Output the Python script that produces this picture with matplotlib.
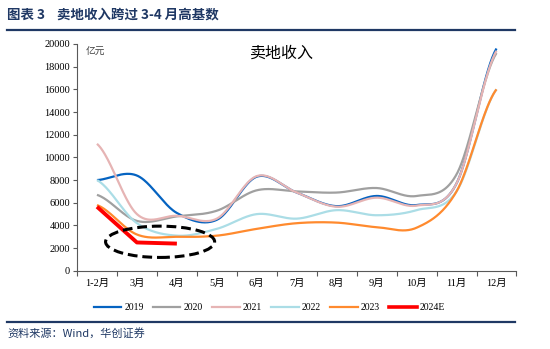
import numpy as np
import matplotlib
matplotlib.use("Agg")
import matplotlib.pyplot as plt
from matplotlib.patches import Ellipse
from matplotlib.lines import Line2D

plt.rcParams['font.family'] = ['Liberation Serif', 'Noto Sans CJK SC', 'DejaVu Sans']

categories = ['1-2月', '3月', '4月', '5月', '6月', '7月', '8月', '9月', '10月', '11月', '12月']
s2019 = [8000, 8400, 5100, 4500, 8300, 6900, 5700, 6600, 5800, 7700, 19600]
s2020 = [6700, 4400, 4800, 5300, 7100, 7000, 6900, 7300, 6600, 8500, 19200]
s2021 = [11200, 5000, 4850, 4600, 8350, 6900, 5650, 6450, 5750, 7700, 19400]
s2022 = [8000, 4200, 3100, 3700, 5000, 4600, 5350, 4900, 5350, 7000, 16000]
s2023 = [5800, 3200, 3000, 3100, 3700, 4200, 4250, 3850, 3800, 7000, 16000]
s2024E = [5650, 2500, 2400]

series = [
    ('2019', s2019, '#0563C1', 1.6, True),
    ('2020', s2020, '#A0A0A0', 1.6, True),
    ('2021', s2021, '#E6B4B4', 1.6, True),
    ('2022', s2022, '#ABDDE6', 1.6, True),
    ('2023', s2023, '#FF8A2E', 1.6, True),
    ('2024E', s2024E, '#FF0000', 2.8, False),
]


def smooth_curve(vals, n=40):
    """Catmull-Rom style rendering of a line through the data points (Excel 'smoothed line')."""
    y = np.asarray(vals, dtype=float)
    x = np.arange(len(y), dtype=float)
    xs, ys = [], []
    for i in range(len(y) - 1):
        p0 = y[i - 1] if i > 0 else y[i]
        p1, p2 = y[i], y[i + 1]
        p3 = y[i + 2] if i + 2 < len(y) else y[i + 1]
        m1 = (p2 - p0) / 2.0
        m2 = (p3 - p1) / 2.0
        t = np.linspace(0, 1, n, endpoint=(i == len(y) - 2))
        h00 = 2 * t**3 - 3 * t**2 + 1
        h10 = t**3 - 2 * t**2 + t
        h01 = -2 * t**3 + 3 * t**2
        h11 = t**3 - t**2
        xs.append(x[i] + t)
        ys.append(h00 * p1 + h10 * m1 + h01 * p2 + h11 * m2)
    return np.concatenate(xs), np.concatenate(ys)


fig = plt.figure(figsize=(5.5, 3.49), dpi=100)
ax = fig.add_axes([0.140, 0.224, 0.799, 0.650])

handles = []
for name, vals, color, lw, smooth in series:
    if smooth:
        xs, ys = smooth_curve(vals)
    else:
        xs, ys = np.arange(len(vals)), np.asarray(vals)
    ax.plot(xs, ys, color=color, lw=lw, solid_capstyle='butt', zorder=3 if name != '2024E' else 5)
    handles.append(Line2D([0], [0], color=color, lw=lw if name != '2024E' else 2.6, label=name))

ell = Ellipse((1.58, 2560), width=2.73, height=2760, fill=False, ec='black',
              lw=2.2, ls=(0, (3.2, 1.6)), zorder=6)
ax.add_patch(ell)

ax.set_xlim(-0.5, len(categories) - 0.5)
ax.set_ylim(0, 20000)
ax.set_yticks(np.arange(0, 20001, 2000))
ax.set_yticklabels([str(v) for v in range(0, 20001, 2000)], fontsize=7.5)
ax.set_xticks(np.arange(len(categories)))
ax.set_xticklabels(categories, fontsize=7.5)
ax.set_xticks(np.arange(len(categories) + 1) - 0.5, minor=True)
ax.tick_params(axis='x', which='major', length=0, pad=6)
ax.tick_params(axis='x', which='minor', length=3.5, direction='out', color='#595959', width=0.8)
ax.tick_params(axis='y', length=3, direction='out', color='#595959', width=0.8, pad=2)
for sp in ['top', 'right']:
    ax.spines[sp].set_visible(False)
for sp in ['left', 'bottom']:
    ax.spines[sp].set_color('#595959')
    ax.spines[sp].set_linewidth(0.8)

ax.text(0.02, 0.965, '亿元', transform=ax.transAxes, fontsize=7, color='#404040',
        va='center', family=['Noto Sans CJK SC'])
ax.text(0.466, 0.958, '卖地收入', transform=ax.transAxes, fontsize=11.5, color='black',
        ha='center', va='center', family=['Noto Sans CJK SC'])

fig.legend(handles=handles, loc='center', bbox_to_anchor=(0.49, 0.118), ncol=6,
           frameon=False, fontsize=7, handlelength=2.8, handletextpad=0.3,
           columnspacing=1.0)

# header
fig.text(0.013, 0.957, '图表 3    卖地收入跨过 3-4 月高基数', fontsize=9.7, fontweight='bold',
         color='#1F3864', va='center', family=['Noto Sans CJK SC'])
fig.add_artist(Line2D([7 / 550, 515 / 550], [1 - 29.5 / 349] * 2, color='#1F3864', lw=1.6))
fig.add_artist(Line2D([7 / 550, 515 / 550], [1 - 321.5 / 349] * 2, color='#1F3864', lw=1.6))
fig.text(0.013, 1 - 333 / 349, '资料来源：Wind，华创证券', fontsize=8, style='italic',
         color='#1F3864', va='center', family=['Noto Sans CJK SC'])

fig.savefig('out.png', dpi=100)
